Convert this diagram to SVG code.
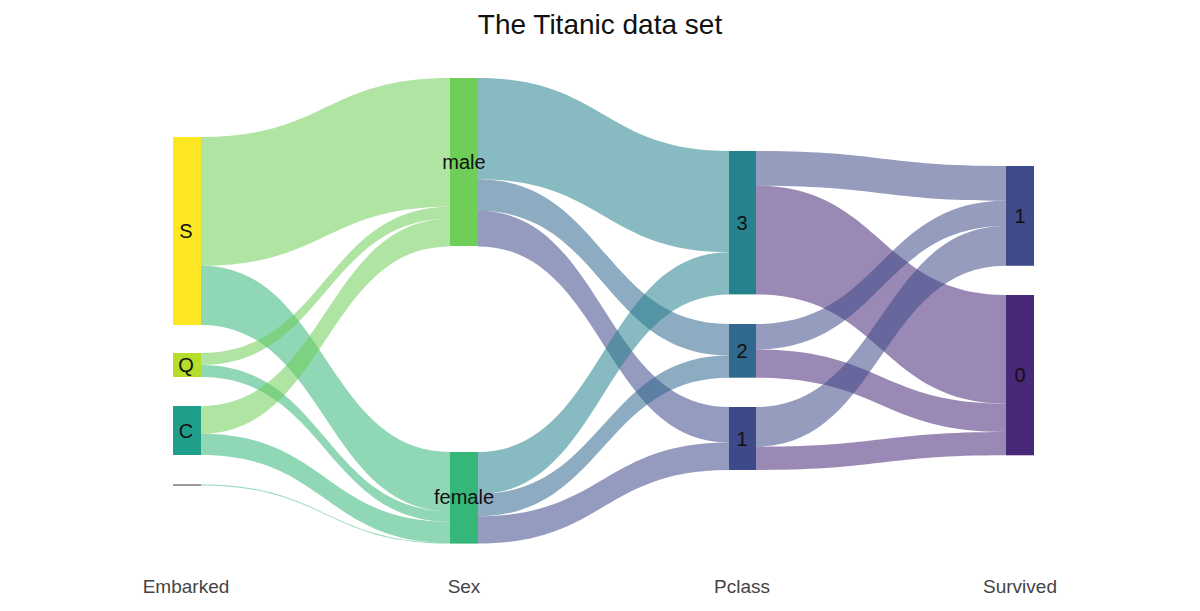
<svg xmlns="http://www.w3.org/2000/svg" width="1200" height="611" viewBox="0 0 1200 611">
<style>
text{font-family:"Liberation Sans",Arial,sans-serif;fill:#111}
.t{font-size:28px}
.n{font-size:20px}
.ax{font-size:19px;fill:#444}
.l{fill-opacity:0.55;stroke:none}
</style>
<rect width="1200" height="611" fill="#fff"/>
<text class="t" x="600" y="34" text-anchor="middle">The Titanic data set</text>
<g id="connectors">
<path class="l" fill="#6ece58" d="M201,137 C325.5,137 325.5,78 450,78 L450,206.8 C325.5,206.8 325.5,265.8 201,265.8 Z"/>
<path class="l" fill="#35b779" d="M201,265.8 C325.5,265.8 325.5,452 450,452 L450,511.3 C325.5,511.3 325.5,325 201,325 Z"/>
<path class="l" fill="#6ece58" d="M201,353 C325.5,353 325.5,206.8 450,206.8 L450,218.8 C325.5,218.8 325.5,365 201,365 Z"/>
<path class="l" fill="#35b779" d="M201,365 C325.5,365 325.5,511.3 450,511.3 L450,521.8 C325.5,521.8 325.5,377 201,377 Z"/>
<path class="l" fill="#6ece58" d="M201,406 C325.5,406 325.5,218.8 450,218.8 L450,246.5 C325.5,246.5 325.5,433.7 201,433.7 Z"/>
<path class="l" fill="#35b779" d="M201,433.7 C325.5,433.7 325.5,521.8 450,521.8 L450,543 C325.5,543 325.5,455 201,455 Z"/>
<path class="l" fill="#35b779" d="M201,484.5 C325.5,484.5 325.5,542.8 450,542.8 L450,543.6 C325.5,543.6 325.5,485.5 201,485.5 Z"/>
<path class="l" fill="#26828e" d="M478,78 C603.5,78 603.5,151 729,151 L729,252.3 C603.5,252.3 603.5,179.3 478,179.3 Z"/>
<path class="l" fill="#31688e" d="M478,179.3 C603.5,179.3 603.5,324 729,324 L729,355.5 C603.5,355.5 603.5,210.8 478,210.8 Z"/>
<path class="l" fill="#3e4989" d="M478,210.8 C603.5,210.8 603.5,407 729,407 L729,442.6 C603.5,442.6 603.5,246.4 478,246.4 Z"/>
<path class="l" fill="#26828e" d="M478,452 C603.5,452 603.5,252.3 729,252.3 L729,294.4 C603.5,294.4 603.5,494 478,494 Z"/>
<path class="l" fill="#31688e" d="M478,494 C603.5,494 603.5,355.5 729,355.5 L729,377.7 C603.5,377.7 603.5,516.2 478,516.2 Z"/>
<path class="l" fill="#3e4989" d="M478,516.2 C603.5,516.2 603.5,442.6 729,442.6 L729,470 C603.5,470 603.5,543.6 478,543.6 Z"/>
<path class="l" fill="#3e4a89" d="M756,151 C881,151 881,166 1006,166 L1006,200.7 C881,200.7 881,185.7 756,185.7 Z"/>
<path class="l" fill="#482878" d="M756,185.7 C881,185.7 881,295 1006,295 L1006,403.6 C881,403.6 881,294.4 756,294.4 Z"/>
<path class="l" fill="#3e4a89" d="M756,324 C881,324 881,200.7 1006,200.7 L1006,226.1 C881,226.1 881,349.4 756,349.4 Z"/>
<path class="l" fill="#482878" d="M756,349.4 C881,349.4 881,403.6 1006,403.6 L1006,432 C881,432 881,377.7 756,377.7 Z"/>
<path class="l" fill="#3e4a89" d="M756,407 C881,407 881,226.1 1006,226.1 L1006,265.8 C881,265.8 881,446.7 756,446.7 Z"/>
<path class="l" fill="#482878" d="M756,446.7 C881,446.7 881,432 1006,432 L1006,455.3 C881,455.3 881,470 756,470 Z"/>
</g>
<g id="node-S"><rect x="173" y="137" width="28" height="188" fill="#fde725"/><text class="n" x="186" y="238" text-anchor="middle">S</text></g>
<g id="node-Q"><rect x="173" y="353" width="28" height="24" fill="#b5de2b"/><text class="n" x="186" y="372" text-anchor="middle">Q</text></g>
<g id="node-C"><rect x="173" y="406" width="28" height="49" fill="#1f9e89"/><text class="n" x="186" y="438" text-anchor="middle">C</text></g>
<g id="node-NA"><rect x="173" y="484" width="28" height="2" fill="#999"/></g>
<g id="node-male"><rect x="450" y="78" width="28" height="168" fill="#6ece58"/><text class="n" x="464" y="169" text-anchor="middle">male</text></g>
<g id="node-female"><rect x="450" y="452" width="28" height="91.6" fill="#35b779"/><text class="n" x="464" y="504" text-anchor="middle">female</text></g>
<g id="node-3"><rect x="729" y="151" width="27" height="143.4" fill="#26828e"/><text class="n" x="742" y="230" text-anchor="middle">3</text></g>
<g id="node-2"><rect x="729" y="324" width="27" height="53.7" fill="#31688e"/><text class="n" x="742" y="358" text-anchor="middle">2</text></g>
<g id="node-1"><rect x="729" y="407" width="27" height="63" fill="#3e4989"/><text class="n" x="742" y="446" text-anchor="middle">1</text></g>
<g id="node-surv1"><rect x="1006" y="166" width="28" height="99.8" fill="#3e4a89"/><text class="n" x="1020" y="223" text-anchor="middle">1</text></g>
<g id="node-surv0"><rect x="1006" y="295" width="28" height="160.3" fill="#482878"/><text class="n" x="1020" y="382" text-anchor="middle">0</text></g>
<g id="axis-labels">
<text class="ax" x="186" y="593" text-anchor="middle">Embarked</text>
<text class="ax" x="464" y="593" text-anchor="middle">Sex</text>
<text class="ax" x="742" y="593" text-anchor="middle">Pclass</text>
<text class="ax" x="1020" y="593" text-anchor="middle">Survived</text>
</g>
</svg>
